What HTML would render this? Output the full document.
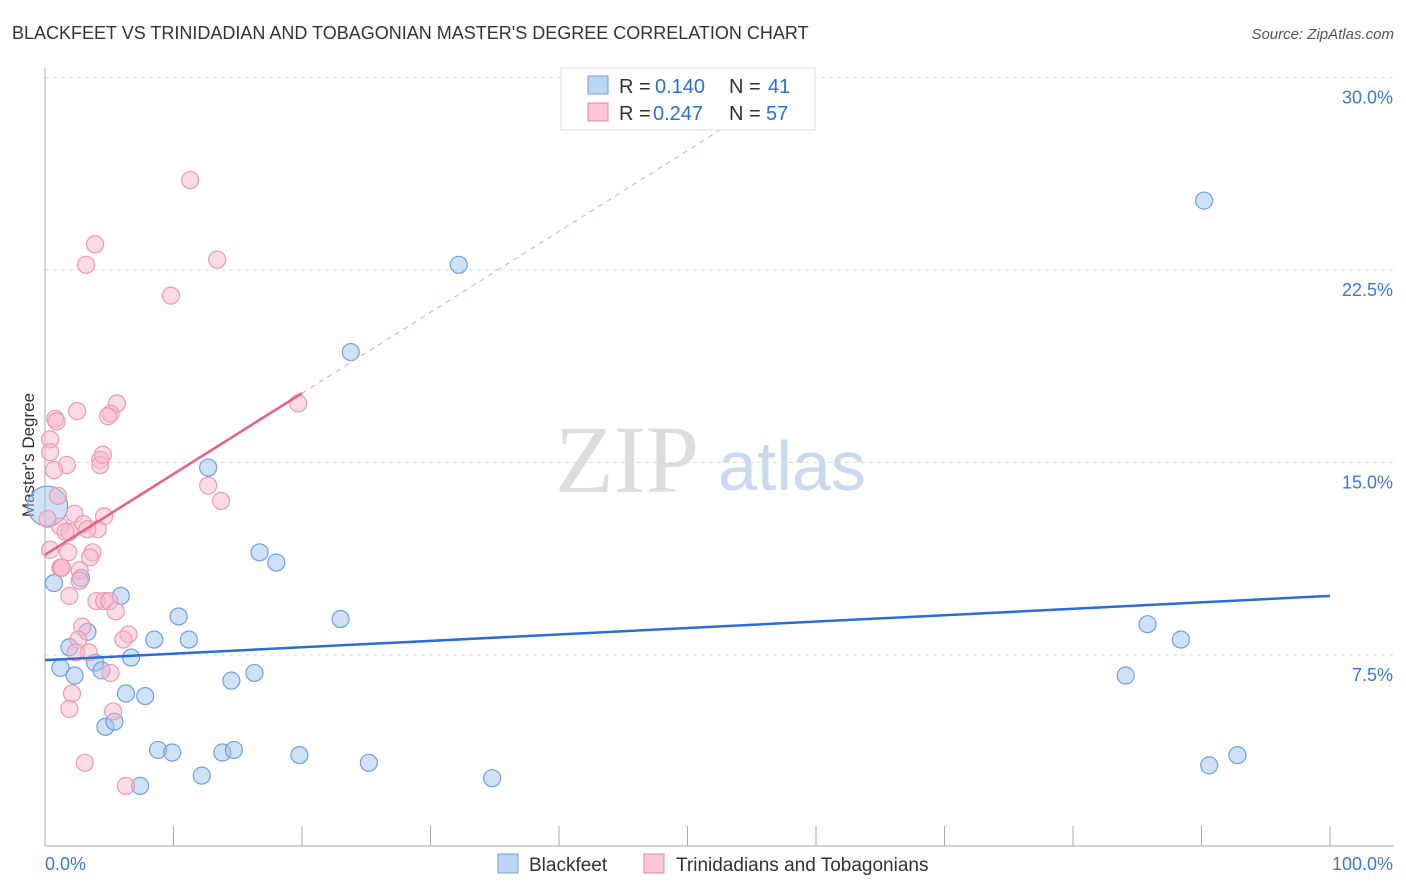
<!DOCTYPE html>
<html><head><meta charset="utf-8"><style>
body{margin:0;background:#fff;font-family:"Liberation Sans",sans-serif;}
#wrap{position:relative;width:1406px;height:892px;overflow:hidden;}
</style></head><body>
<div id="wrap">
<svg id="svg" width="1406" height="892" xmlns="http://www.w3.org/2000/svg">
<text x="12" y="39" font-size="18" fill="#333">BLACKFEET VS TRINIDADIAN AND TOBAGONIAN MASTER'S DEGREE CORRELATION CHART</text>
<text x="1394" y="39" font-size="15" fill="#555" font-style="italic" text-anchor="end">Source: ZipAtlas.com</text>
<text x="34" y="455" font-size="17" fill="#333" text-anchor="middle" transform="rotate(-90 34 455)">Master's Degree</text>
<text x="555" y="492" font-size="96" fill="#ddd" font-family="Liberation Serif,serif">ZIP</text>
<text x="718" y="490" font-size="70" fill="#c9daf0">atlas</text>
<g id="grid"></g><g id="pts"></g><g id="lines"></g>
<g>
<rect x="561" y="68" width="254" height="62" fill="#fff" stroke="#ddd"/>
<rect x="588" y="76" width="20" height="18" fill="#bcd4f6" stroke="#6fa0e0"/>
<text x="619" y="93" font-size="20" fill="#333">R =</text><text x="655" y="93" font-size="20" fill="#2c6fd1">0.140</text>
<text x="729" y="93" font-size="20" fill="#333">N =</text><text x="768" y="93" font-size="20" fill="#2c6fd1">41</text>
<rect x="588" y="103" width="20" height="18" fill="#f8c6d4" stroke="#e98aa6"/>
<text x="619" y="120" font-size="20" fill="#333">R =</text><text x="653" y="120" font-size="20" fill="#2c6fd1">0.247</text>
<text x="729" y="120" font-size="20" fill="#333">N =</text><text x="766" y="120" font-size="20" fill="#2c6fd1">57</text>
</g>
<g>
<rect x="498" y="854" width="20" height="19" fill="#bcd4f6" stroke="#6fa0e0"/>
<text x="529" y="871" font-size="19" fill="#333">Blackfeet</text>
<rect x="644" y="854" width="20" height="19" fill="#f8c6d4" stroke="#e98aa6"/>
<text x="676" y="871" font-size="19" fill="#333">Trinidadians and Tobagonians</text>
</g>
</svg></div>
<script>
const yTicks=[7.5,15,22.5,30];
const yTickLabels=["7.5%","15.0%","22.5%","30.0%"];
const blueX=[90.2,32.2,23.8,12.7,16.7,18.0,0.7,2.8,5.9,10.4,23.0,8.5,11.2,3.3,1.9,1.2,3.9,4.4,6.7,2.3,14.5,16.3,6.3,7.8,4.7,5.4,8.8,9.9,13.8,14.7,19.8,25.2,12.2,7.4,34.8,85.8,88.4,84.1,90.6,92.8,0.2];
const blueY=[25.2,22.7,19.3,14.8,11.5,11.1,10.3,10.5,9.8,9.0,8.9,8.1,8.1,8.4,7.8,7.0,7.2,6.9,7.4,6.7,6.5,6.8,6.0,5.9,4.7,4.9,3.8,3.7,3.7,3.8,3.6,3.3,2.8,2.4,2.7,8.7,8.1,6.7,3.2,3.6,13.3];
const pinkX=[11.3,3.9,3.2,13.4,9.8,19.7,5.6,2.5,5.1,0.8,0.9,0.4,0.4,4.3,1.7,0.7,4.3,12.7,13.7,1.0,2.3,4.6,3.0,1.2,1.9,4.1,3.3,1.8,3.7,1.2,1.3,2.7,2.7,1.9,4.0,4.6,5.0,5.5,2.9,6.5,6.1,2.6,3.4,2.4,5.1,2.1,1.9,5.3,3.1,6.3,0.2,0.4,1.6,1.3,4.9,3.5,4.5];
const pinkY=[26.0,23.5,22.7,22.9,21.5,17.3,17.3,17.0,16.9,16.7,16.6,15.9,15.4,15.1,14.9,14.7,14.9,14.1,13.5,13.7,13.0,12.9,12.6,12.5,12.3,12.4,12.4,11.5,11.5,10.9,10.9,10.8,10.4,9.8,9.6,9.6,9.6,9.2,8.6,8.3,8.1,8.1,7.6,7.6,6.8,6.0,5.4,5.3,3.3,2.4,12.8,11.6,12.3,10.9,16.8,11.3,15.3];
const blueFit=[7.3,9.8];
const pinkFit=[11.4,17.7];
const X=v=>45+v*12.85, Y=v=>847.5-v*25.67;
const ns="http://www.w3.org/2000/svg";
function mk(t,a,p){const e=document.createElementNS(ns,t);for(const k in a)e.setAttribute(k,a[k]);p.appendChild(e);return e;}
const g=document.getElementById('grid');
yTicks.forEach((t,i)=>{
const l=mk('line',{x1:45,x2:1394,y1:Y(t),y2:Y(t),stroke:'#ddd','stroke-dasharray':'4,4'},g);


const tx=mk('text',{x:1393,y:Y(t)+26,'font-size':18,fill:'#3b78d8','text-anchor':'end'},g);tx.textContent=yTickLabels[i];


});
mk('line',{x1:45,x2:45,y1:68,y2:846,stroke:'#aaa'},g);
mk('line',{x1:45,x2:1394,y1:846,y2:846,stroke:'#aaa'},g);
for(let i=0;i<=10;i++){mk('line',{x1:X(i*10),x2:X(i*10),y1:826,y2:846,stroke:'#aaa'},g);}
let t0=mk('text',{x:45,y:870,'font-size':18,fill:'#3b78d8'},g);t0.textContent='0.0%';


let t1=mk('text',{x:1393,y:870,'font-size':18,fill:'#3b78d8','text-anchor':'end'},g);t1.textContent='100.0%';


const p=document.getElementById('pts');
blueX.forEach((x,i)=>{const c=mk('circle',{cx:X(x),cy:Y(blueY[i]),r:i==40?20:8.5,fill:'rgba(160,196,240,0.5)',stroke:'#6fa0e0','stroke-width':1.2},p);

});
pinkX.forEach((x,i)=>{const c=mk('circle',{cx:X(x),cy:Y(pinkY[i]),r:8.5,fill:'rgba(248,184,204,0.5)',stroke:'#ec9ab3','stroke-width':1.2},p);

});
const L=document.getElementById('lines');
const b=mk('line',{x1:X(0),y1:Y(blueFit[0]),x2:X(100),y2:Y(blueFit[1]),stroke:'#2a6dd6','stroke-width':2.5},L);


const slope=(pinkFit[1]-pinkFit[0])/20;
const pd=mk('line',{x1:X(20),y1:Y(pinkFit[1]),x2:X(54),y2:Y(pinkFit[0]+slope*54),stroke:'#e9a5ba','stroke-width':1,'stroke-dasharray':'5,5'},L);


const ps=mk('line',{x1:X(0),y1:Y(pinkFit[0]),x2:X(20),y2:Y(pinkFit[1]),stroke:'#e8608a','stroke-width':2.5},L);


</script>
</body></html>
